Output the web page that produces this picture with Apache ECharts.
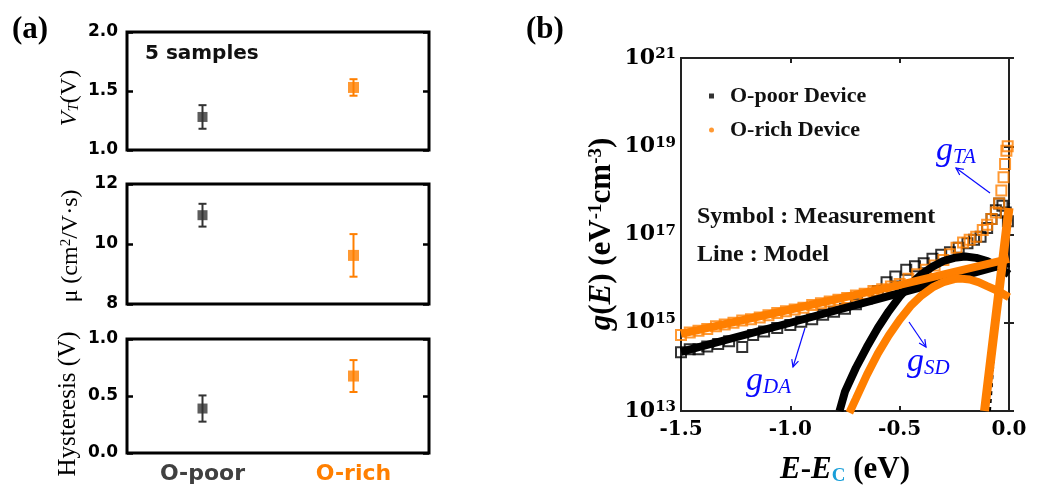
<!DOCTYPE html>
<html>
<head>
<meta charset="utf-8">
<script src="https://cdn.jsdelivr.net/npm/echarts@6/dist/echarts.min.js"></script>
<style>
  html, body { margin: 0; padding: 0; background: #fff; }
  #chart { width: 1048px; height: 491px; }
</style>
</head>
<body>
<div id="chart"></div>
<script>
// (a) 5 samples, mean and error bar per group
var categories = ['O-poor', 'O-rich'];
var vtMean = [1.28, 1.53];
var vtErr = [0.10, 0.07];
var muMean = [10.96, 9.62];
var muErr = [0.38, 0.71];
var hysMean = [0.39, 0.675];
var hysErr = [0.115, 0.14];

// (b) g(E), values are log10 of g
var poorMeasE = [-1.50,-1.46,-1.42,-1.38,-1.33,-1.28,-1.22,-1.17,-1.12,-1.06,-1.00,-0.95,-0.90,-0.85,-0.80,-0.75,-0.70,-0.65,-0.60,-0.56,-0.52,-0.47,-0.43,-0.39,-0.35,-0.31,-0.27,-0.23,-0.19,-0.16,-0.13,-0.10,-0.08,-0.06,-0.045,-0.03,-0.015,-0.005];
var poorMeasG = [14.33,14.40,14.40,14.46,14.52,14.58,14.45,14.72,14.80,14.88,14.95,15.02,15.08,15.18,15.25,15.32,15.42,15.55,15.72,15.92,16.05,16.20,16.28,16.35,16.45,16.54,16.60,16.70,16.80,16.88,16.95,17.15,17.35,17.55,17.70,17.65,17.50,17.30];
var richMeasE = [-1.50,-1.46,-1.42,-1.38,-1.34,-1.30,-1.26,-1.22,-1.18,-1.14,-1.10,-1.06,-1.02,-0.98,-0.94,-0.90,-0.86,-0.82,-0.78,-0.74,-0.70,-0.66,-0.62,-0.58,-0.54,-0.50,-0.46,-0.42,-0.38,-0.34,-0.30,-0.27,-0.24,-0.21,-0.18,-0.15,-0.12,-0.10,-0.08,-0.06,-0.045,-0.035,-0.025,-0.018,-0.012,-0.006];
var richMeasG = [14.72,14.78,14.82,14.86,14.92,14.96,15.00,15.05,15.08,15.12,15.17,15.22,15.26,15.30,15.34,15.40,15.44,15.48,15.52,15.56,15.62,15.66,15.72,15.76,15.82,15.88,16.00,16.10,16.20,16.30,16.42,16.55,16.70,16.82,16.88,16.95,17.10,17.22,17.35,17.50,17.70,18.00,18.30,18.60,18.90,19.00];

var poorDAE = [-1.5, -1.0, -0.5, 0];
var poorDAG = [14.34, 15.0, 15.67, 16.35];
var richDAE = [-1.5, -1.0, -0.5, 0];
var richDAG = [14.75, 15.3, 15.86, 16.45];
var poorSDE = [-0.775,-0.75,-0.70,-0.65,-0.60,-0.55,-0.50,-0.45,-0.40,-0.35,-0.30,-0.25,-0.20,-0.15,-0.10,-0.05,0];
var poorSDG = [13.0,13.44,13.98,14.45,14.88,15.26,15.59,15.87,16.10,16.27,16.40,16.47,16.50,16.47,16.40,16.27,16.10];
var richSDE = [-0.73,-0.70,-0.65,-0.60,-0.55,-0.50,-0.45,-0.40,-0.35,-0.30,-0.25,-0.22,-0.18,-0.14,-0.10,-0.05,0];
var richSDG = [12.96,13.28,13.82,14.30,14.71,15.07,15.38,15.62,15.80,15.92,15.99,16.0,15.98,15.92,15.83,15.72,15.58];
var poorTAE = [-0.088,-0.072,-0.055,-0.03,0];
var poorTAG = [13.0,14.1,15.2,16.3,17.7];
var richTAE = [-0.112,-0.073,-0.034,0];
var richTAG = [13.0,14.6,16.2,17.6];

var ORANGE = '#ff7f00';
var DARK = '#333333';
var BLUE = '#0a0aff';
var groupColors = [DARK, ORANGE];
var serif = 'Liberation Serif';
var numSerif = 'DejaVu Serif';
var sans = 'DejaVu Sans';

function zip(xs, ys) {
  var out = [];
  for (var i = 0; i < xs.length; i++) out.push([xs[i], ys[i]]);
  return out;
}

// mean points + error bars for one (a) panel
function panelSeries(idx, mean, err) {
  var pts = [], bars = [];
  for (var i = 0; i < mean.length; i++) {
    pts.push([i, mean[i]]);
    bars.push([i, mean[i] - err[i], mean[i] + err[i]]);
  }
  return [{
    type: 'custom',
    xAxisIndex: idx, yAxisIndex: idx * 2,
    data: bars,
    z: 2,
    renderItem: function (params, api) {
      var lo = api.coord([api.value(0), api.value(1)]);
      var hi = api.coord([api.value(0), api.value(2)]);
      var c = groupColors[params.dataIndex];
      var st = { stroke: c, lineWidth: 2 };
      return {
        type: 'group',
        children: [
          { type: 'line', shape: { x1: lo[0], y1: lo[1], x2: hi[0], y2: hi[1] }, style: st },
          { type: 'line', shape: { x1: lo[0] - 4, y1: lo[1], x2: lo[0] + 4, y2: lo[1] }, style: st },
          { type: 'line', shape: { x1: hi[0] - 4, y1: hi[1], x2: hi[0] + 4, y2: hi[1] }, style: st }
        ]
      };
    }
  }, {
    type: 'scatter',
    xAxisIndex: idx, yAxisIndex: idx * 2,
    data: pts,
    symbol: 'rect',
    symbolSize: function (v, p) { return p.dataIndex === 0 ? 10 : 11; },
    itemStyle: { color: function (p) { return groupColors[p.dataIndex]; } },
    z: 3
  }];
}

function catAxis(gi, showLabel) {
  return {
    type: 'category', gridIndex: gi, data: categories, boundaryGap: true,
    axisLine: { show: false }, axisTick: { show: false }, splitLine: { show: false },
    axisLabel: {
      show: showLabel, margin: 10,
      fontFamily: sans, fontWeight: 'bold', fontSize: 22,
      color: function (v, i) { return i === 0 ? '#404040' : ORANGE; }
    }
  };
}

function leftAxis(gi, min, max, interval, digits) {
  return {
    type: 'value', gridIndex: gi, min: min, max: max, interval: interval, position: 'left',
    axisLine: { show: false }, splitLine: { show: false },
    axisTick: { show: true, inside: true, length: 6, lineStyle: { color: '#000', width: 2.5 } },
    axisLabel: {
      margin: 9, fontFamily: sans, fontWeight: 'bold', fontSize: 17, color: '#000',
      formatter: function (v) { return v.toFixed(digits); }
    }
  };
}

function rightAxis(gi, min, max, interval) {
  return {
    type: 'value', gridIndex: gi, min: min, max: max, interval: interval, position: 'right',
    axisLine: { show: false }, splitLine: { show: false }, axisLabel: { show: false },
    axisTick: { show: true, inside: true, length: 6, lineStyle: { color: '#000', width: 2.5 } }
  };
}

function arrow(x1, y1, x2, y2) {
  var a = Math.atan2(y2 - y1, x2 - x1), L = 8, w = 0.45;
  var st = { stroke: BLUE, lineWidth: 1.2, fill: null };
  return [
    { type: 'line', shape: { x1: x1, y1: y1, x2: x2, y2: y2 }, style: st },
    { type: 'polyline', shape: { points: [
      [x2 - L * Math.cos(a - w), y2 - L * Math.sin(a - w)], [x2, y2],
      [x2 - L * Math.cos(a + w), y2 - L * Math.sin(a + w)]] }, style: st }
  ];
}

function gLabel(x, y, sub) {
  return {
    type: 'text', x: x, y: y,
    style: {
      text: '{g|g}{s|' + sub + '}', verticalAlign: 'middle',
      rich: {
        g: { fontFamily: serif, fontStyle: 'italic', fontSize: 34, fill: BLUE, verticalAlign: 'middle' },
        s: { fontFamily: serif, fontStyle: 'italic', fontSize: 21, fill: BLUE, verticalAlign: 'bottom' }
      }
    }
  };
}

var gridBox = { show: true, borderColor: '#000', borderWidth: 3, backgroundColor: 'transparent' };
var lineBase = { type: 'line', xAxisIndex: 3, yAxisIndex: 6, showSymbol: false, symbol: 'none', smooth: false };

var series = []
  .concat(panelSeries(0, vtMean, vtErr))
  .concat(panelSeries(1, muMean, muErr))
  .concat(panelSeries(2, hysMean, hysErr));

series.push(
  { name: 'O-poor Device', type: 'scatter', xAxisIndex: 3, yAxisIndex: 6, data: zip(poorMeasE, poorMeasG),
    symbol: 'rect', symbolSize: 10, z: 1,
    itemStyle: { color: 'transparent', borderColor: '#000', borderWidth: 2 } },
  { name: 'O-rich Device', type: 'scatter', xAxisIndex: 3, yAxisIndex: 6, data: zip(richMeasE, richMeasG),
    symbol: 'rect', symbolSize: 10, z: 2,
    itemStyle: { color: 'transparent', borderColor: ORANGE, borderWidth: 2 } },
  Object.assign({}, lineBase, { data: zip(poorDAE, poorDAG), z: 3, lineStyle: { color: '#000', width: 8 } }),
  Object.assign({}, lineBase, { data: zip(poorSDE, poorSDG), z: 3, lineStyle: { color: '#000', width: 8 } }),
  Object.assign({}, lineBase, { data: zip(poorTAE, poorTAG), z: 3, lineStyle: { color: '#000', width: 2.5, type: [4, 4] } }),
  Object.assign({}, lineBase, { data: zip(richDAE, richDAG), z: 4, lineStyle: { color: ORANGE, width: 8 } }),
  Object.assign({}, lineBase, { data: zip(richSDE, richSDG), z: 4, lineStyle: { color: ORANGE, width: 8 } }),
  Object.assign({}, lineBase, { data: zip(richTAE, richTAG), z: 4, lineStyle: { color: ORANGE, width: 9 } })
);

var supRich = {
  b: { fontFamily: numSerif, fontWeight: 'bold', fontSize: 22, color: '#000', verticalAlign: 'bottom' },
  s: { fontFamily: numSerif, fontWeight: 'bold', fontSize: 15, color: '#000', verticalAlign: 'top' }
};

var chart = echarts.init(document.getElementById('chart'), null, { renderer: 'canvas' });
var option = {
  animation: false,
  backgroundColor: '#fff',
  grid: [
    Object.assign({ left: 127, top: 32, width: 302, height: 118 }, gridBox),
    Object.assign({ left: 127, top: 184, width: 302, height: 120 }, gridBox),
    Object.assign({ left: 127, top: 339, width: 302, height: 114 }, gridBox),
    { left: 681, top: 58, width: 328, height: 353, show: true, borderColor: '#222', borderWidth: 2, backgroundColor: 'transparent' }
  ],
  legend: {
    orient: 'vertical', left: 704, top: 80, itemWidth: 5, itemHeight: 5, itemGap: 12,
    textStyle: { fontFamily: serif, fontWeight: 'bold', fontSize: 22, color: '#111', padding: [0, 0, 0, 11] },
    data: [
      { name: 'O-poor Device', icon: 'rect', itemStyle: { color: '#000', borderWidth: 0 } },
      { name: 'O-rich Device', icon: 'circle', itemStyle: { color: ORANGE, borderWidth: 0 } }
    ]
  },
  xAxis: [
    catAxis(0, false),
    catAxis(1, false),
    catAxis(2, true),
    {
      type: 'value', gridIndex: 3, min: -1.5, max: 0, interval: 0.5, position: 'bottom',
      axisLine: { show: false }, splitLine: { show: false },
      axisTick: { show: true, inside: true, length: 5, lineStyle: { color: '#222', width: 2 } },
      axisLabel: { margin: 9, fontFamily: numSerif, fontWeight: 'bold', fontSize: 20, color: '#000',
        formatter: function (v) { return v.toFixed(1); } }
    },
    {
      type: 'value', gridIndex: 3, min: -1.5, max: 0, interval: 0.5, position: 'top',
      axisLine: { show: false }, splitLine: { show: false }, axisLabel: { show: false },
      axisTick: { show: true, inside: true, length: 5, lineStyle: { color: '#222', width: 2 } }
    }
  ],
  yAxis: [
    leftAxis(0, 1, 2, 0.5, 1), rightAxis(0, 1, 2, 0.5),
    leftAxis(1, 8, 12, 2, 0), rightAxis(1, 8, 12, 2),
    leftAxis(2, 0, 1, 0.5, 1), rightAxis(2, 0, 1, 0.5),
    {
      type: 'value', gridIndex: 3, min: 13, max: 21, interval: 2, position: 'left',
      axisLine: { show: false }, splitLine: { show: false },
      axisTick: { show: true, inside: true, length: 5, lineStyle: { color: '#222', width: 2 } },
      axisLabel: { margin: 5, formatter: function (v) { return '{b|10}{s|' + v + '}'; }, rich: supRich }
    },
    {
      type: 'value', gridIndex: 3, min: 13, max: 21, interval: 2, position: 'right',
      axisLine: { show: false }, splitLine: { show: false }, axisLabel: { show: false },
      axisTick: { show: true, inside: true, length: 5, lineStyle: { color: '#222', width: 2 } }
    }
  ],
  series: series,
  graphic: [
    { type: 'text', left: 12, top: 14, style: { text: '(a)', fontFamily: serif, fontWeight: 'bold', fontSize: 31, fill: '#000' } },
    { type: 'text', left: 526, top: 14, style: { text: '(b)', fontFamily: serif, fontWeight: 'bold', fontSize: 31, fill: '#000' } },
    { type: 'text', left: 145, top: 44, style: { text: '5 samples', fontFamily: sans, fontWeight: 'bold', fontSize: 20, fill: '#111' } },
    // rotated titles of the (a) panels
    { type: 'text', x: 70, y: 98, rotation: Math.PI / 2,
      style: { text: '{i|V}{sub|T}{n|(V)}', align: 'center', verticalAlign: 'middle',
        rich: {
          i: { fontFamily: serif, fontStyle: 'italic', fontSize: 24, fill: '#000', verticalAlign: 'middle' },
          sub: { fontFamily: serif, fontStyle: 'italic', fontSize: 15, fill: '#000', verticalAlign: 'bottom' },
          n: { fontFamily: serif, fontSize: 24, fill: '#000', verticalAlign: 'middle' }
        } } },
    { type: 'text', x: 71, y: 246, rotation: Math.PI / 2,
      style: { text: '{n|\u03bc (cm}{sup|2}{n|/V\u00b7s)}', align: 'center', verticalAlign: 'middle',
        rich: {
          n: { fontFamily: serif, fontSize: 24, fill: '#000', verticalAlign: 'middle' },
          sup: { fontFamily: serif, fontSize: 15, fill: '#000', verticalAlign: 'top' }
        } } },
    { type: 'text', x: 68, y: 404, rotation: Math.PI / 2,
      style: { text: 'Hysteresis (V)', align: 'center', verticalAlign: 'middle',
        fontFamily: serif, fontSize: 25, fill: '#000' } },
    // (b) titles and notes
    { type: 'text', x: 602, y: 234, rotation: Math.PI / 2,
      style: { text: '{i|g}{n|(}{i|E}{n|) (eV}{sup|-1}{n|cm}{sup|-3}{n|)}', align: 'center', verticalAlign: 'middle',
        rich: {
          i: { fontFamily: serif, fontStyle: 'italic', fontWeight: 'bold', fontSize: 31, fill: '#000', verticalAlign: 'middle' },
          n: { fontFamily: serif, fontWeight: 'bold', fontSize: 31, fill: '#000', verticalAlign: 'middle' },
          sup: { fontFamily: serif, fontWeight: 'bold', fontSize: 19, fill: '#000', verticalAlign: 'top' }
        } } },
    { type: 'text', x: 845, y: 470,
      style: { text: '{i|E}{n|-}{i|E}{sub|C}{n| (eV)}', align: 'center', verticalAlign: 'middle',
        rich: {
          i: { fontFamily: serif, fontStyle: 'italic', fontWeight: 'bold', fontSize: 31, fill: '#000', verticalAlign: 'middle' },
          n: { fontFamily: serif, fontWeight: 'bold', fontSize: 31, fill: '#000', verticalAlign: 'middle' },
          sub: { fontFamily: serif, fontWeight: 'bold', fontSize: 19, fill: '#1a9fd9', verticalAlign: 'bottom' }
        } } },
    { type: 'text', left: 697, top: 205, style: { text: 'Symbol : Measurement', fontFamily: serif, fontWeight: 'bold', fontSize: 24, fill: '#111' } },
    { type: 'text', left: 697, top: 243, style: { text: 'Line : Model', fontFamily: serif, fontWeight: 'bold', fontSize: 24, fill: '#111' } },
    gLabel(936, 151, 'TA'),
    gLabel(746, 381, 'DA'),
    gLabel(907, 362, 'SD')
  ].concat(arrow(990, 193, 956, 168), arrow(805, 328, 793, 367), arrow(909, 322, 926, 347))
};
chart.setOption(option);
</script>
</body>
</html>
